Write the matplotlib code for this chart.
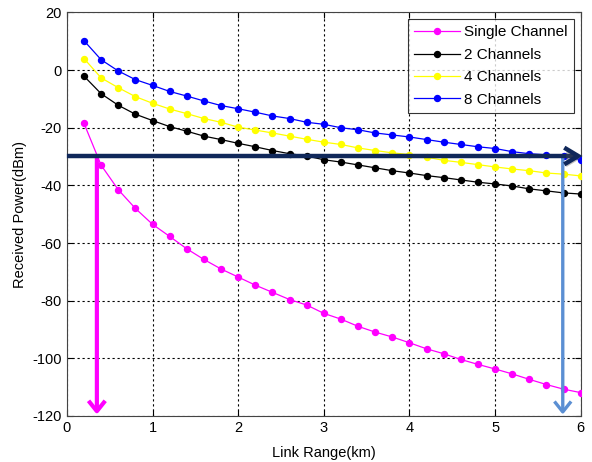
import numpy as np
import matplotlib
matplotlib.use("Agg")
import matplotlib.pyplot as plt
import matplotlib.patheffects as pe

plt.rcParams['font.family'] = ['Liberation Sans', 'DejaVu Sans']
plt.rcParams['axes.unicode_minus'] = False

# link range (km)
link_range = [0.2, 0.4, 0.6, 0.8, 1.0, 1.2, 1.4, 1.6, 1.8, 2.0,
              2.2, 2.4, 2.6, 2.8, 3.0, 3.2, 3.4, 3.6, 3.8, 4.0,
              4.2, 4.4, 4.6, 4.8, 5.0, 5.2, 5.4, 5.6, 5.8, 6.0]

single_channel = [-18.5, -33.0, -41.5, -48.0, -53.5, -57.7, -62.0, -65.7, -69.0, -71.8,
                  -74.6, -77.1, -79.6, -81.5, -84.4, -86.4, -88.9, -90.9, -92.6, -94.6,
                  -96.7, -98.4, -100.4, -102.1, -103.7, -105.4, -107.3, -109.1, -110.7, -111.9]
two_channels = [-2.1, -8.2, -12.2, -15.3, -17.5, -19.6, -21.2, -22.9, -24.1, -25.4,
                -26.6, -27.9, -29.0, -29.8, -31.1, -31.9, -32.9, -33.9, -34.9, -35.7,
                -36.6, -37.3, -38.1, -38.9, -39.5, -40.2, -41.2, -41.9, -42.6, -43.0]
four_channels = [4.0, -2.7, -6.1, -9.2, -11.5, -13.5, -15.1, -16.8, -18.1, -19.8,
                 -20.8, -21.8, -22.9, -24.0, -25.0, -25.8, -27.0, -27.9, -28.7, -29.3,
                 -30.2, -31.3, -32.0, -32.8, -33.6, -34.3, -34.9, -35.7, -36.1, -36.7]
eight_channels = [10.2, 3.6, -0.3, -3.3, -5.3, -7.4, -9.0, -10.7, -12.3, -13.4,
                  -14.6, -15.9, -16.8, -18.1, -18.8, -20.0, -20.7, -21.8, -22.5, -23.2,
                  -24.1, -25.0, -25.8, -26.6, -27.2, -28.3, -29.0, -29.4, -29.8, -31.1]

labels = ['Single Channel', '2 Channels', '4 Channels', '8 Channels']
colors = ['#ff00ff', '#000000', '#ffff00', '#0000ff']

# sensitivity line and the ranges it gives
sensitivity = -29.8
range_single = 0.35
range_eight = 5.79

fig = plt.figure(figsize=(5.92, 4.62), dpi=100)
ax = fig.add_axes([0.113, 0.0996, 0.868, 0.8734])

series = [single_channel, two_channels, four_channels, eight_channels]
for vals, lab, col in zip(series, labels, colors):
    ax.plot(link_range, vals, color=col, lw=0.9, marker='o', markersize=4.3,
            label=lab, zorder=3)

ax.set_xlim(0, 6)
ax.set_ylim(-120, 20)
ax.set_xticks(range(0, 7))
ax.set_yticks(range(-120, 21, 20))
ax.grid(True, color='black', linestyle=(0, (2, 2.5)), lw=0.8)
ax.tick_params(direction='in', top=True, right=True, labelsize=10.5, length=4)
for s in ax.spines.values():
    s.set_color('#444444')

ax.set_xlabel('Link Range(km)', fontsize=10.5, labelpad=8)
ax.set_ylabel('Received Power(dBm)', fontsize=10.5, labelpad=4)

# arrows
shadow = [pe.SimplePatchShadow(offset=(1.5, -2), alpha=0.35), pe.Normal()]
ax.annotate('', xy=(6.02, sensitivity), xytext=(0, sensitivity),
            arrowprops=dict(arrowstyle='->,head_length=1.0,head_width=0.6',
                            color='#10285a', lw=3.2, shrinkA=0, shrinkB=0,
                            joinstyle='miter', capstyle='butt',
                            path_effects=shadow),
            zorder=5, annotation_clip=False)
ax.annotate('', xy=(range_single, -119.5), xytext=(range_single, sensitivity),
            arrowprops=dict(arrowstyle='->,head_length=0.75,head_width=0.6',
                            color='#ff00ff', lw=3, shrinkA=0, shrinkB=0,
                            capstyle='butt'),
            zorder=4)
ax.annotate('', xy=(range_eight, -119.5), xytext=(range_eight, sensitivity),
            arrowprops=dict(arrowstyle='->,head_length=0.75,head_width=0.6',
                            color='#5b8fd3', lw=2.4, shrinkA=0, shrinkB=0,
                            capstyle='butt'),
            zorder=4)

leg = ax.legend(loc='upper right', fontsize=11, frameon=True, fancybox=False,
                edgecolor='black', handlelength=3.0, handletextpad=0.3,
                borderpad=0.4, labelspacing=0.55, borderaxespad=0.45)
leg.get_frame().set_linewidth(0.8)
leg.set_zorder(6)

fig.savefig('out.png', dpi=100)
